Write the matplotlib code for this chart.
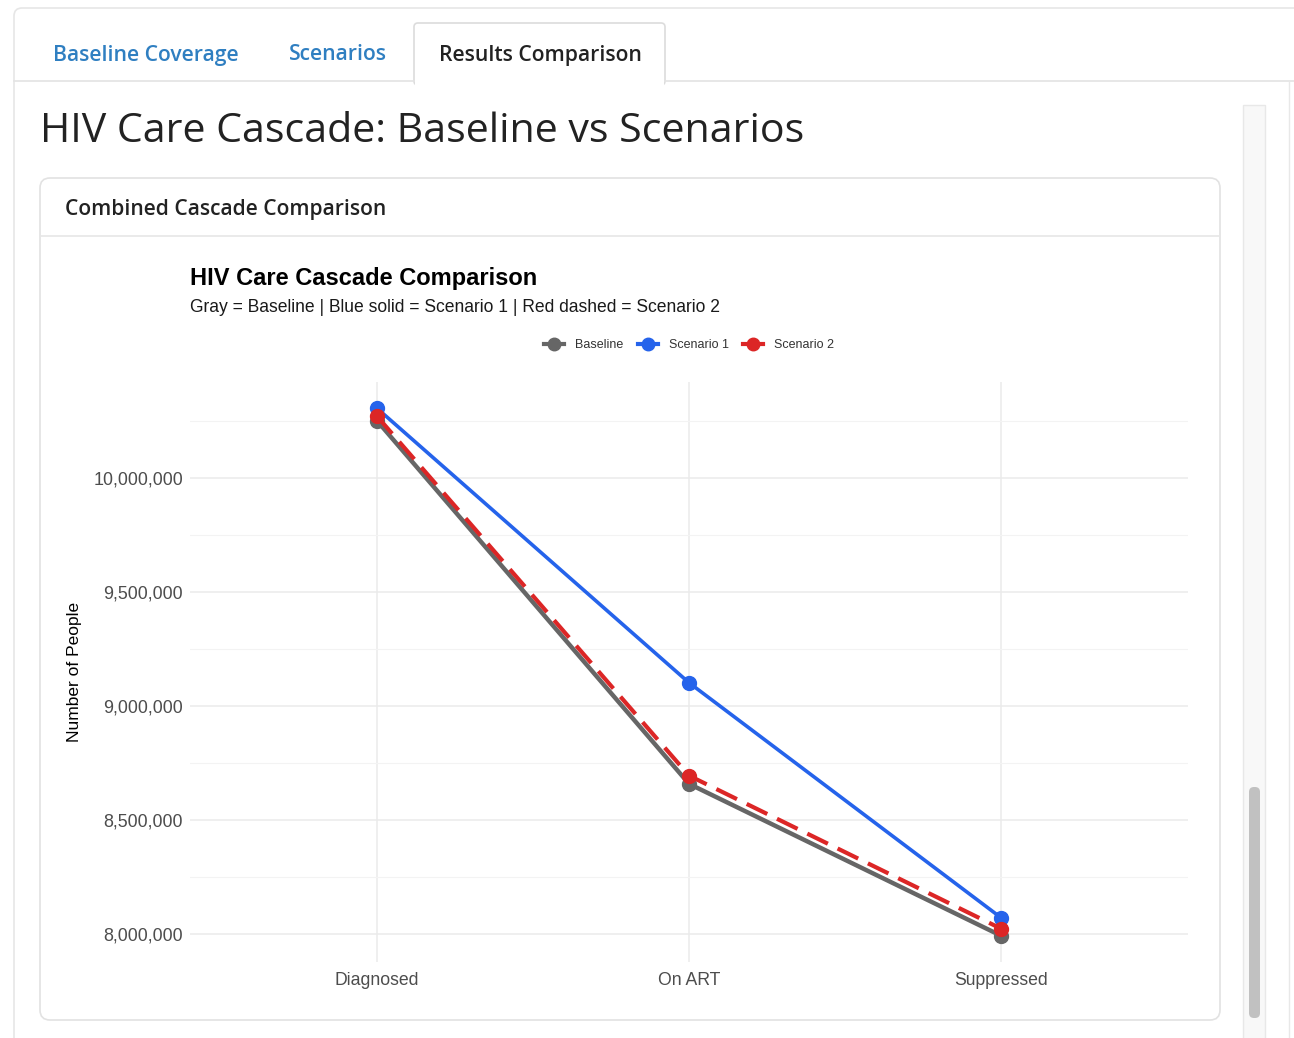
import matplotlib.pyplot as plt
from matplotlib.patches import FancyBboxPatch, Rectangle
from matplotlib.lines import Line2D
from matplotlib.ticker import FuncFormatter, MultipleLocator

# --- Cascade data ---
STAGES = ["Diagnosed", "On ART", "Suppressed"]
BASELINE = [10250000, 8660000, 7995000]
SCENARIO_1 = [10305000, 9103000, 8074000]
SCENARIO_2 = [10270000, 8696000, 8026000]

W, H = 1294, 1038
UI_FONT = "Open Sans"
PLOT_FONT = ["Liberation Sans", "DejaVu Sans"]


def px(x, y, w, h):
    # pixel box (top-left origin) -> figure fraction rect
    return [x / W, 1 - (y + h) / H, w / W, h / H]


fig = plt.figure(figsize=(W / 100, H / 100), dpi=100, facecolor="white")

# --- page chrome drawn in pixel space ---
ui = fig.add_axes([0, 0, 1, 1])
ui.set_xlim(0, W)
ui.set_ylim(H, 0)
ui.axis("off")

# outer container
ui.add_patch(FancyBboxPatch((14, 8), W + 40, H + 40, boxstyle="round,pad=0,rounding_size=8",
                            fc="white", ec="#e6e6e6", lw=1.2))
# tab strip underline and active tab
ui.plot([14, 414], [81, 81], color="#e3e3e3", lw=1.2)
ui.plot([665, W], [81, 81], color="#e3e3e3", lw=1.2)
ui.add_patch(FancyBboxPatch((414, 23), 251, 62, boxstyle="round,pad=0,rounding_size=4",
                            fc="white", ec="#dcdcdc", lw=1.2))
ui.add_patch(Rectangle((415, 78), 249, 8, fc="white", ec="none"))

tab_kw = dict(fontsize=15.2, fontfamily=UI_FONT, fontweight="semibold", va="center")
ui.text(53, 55, "Baseline Coverage", color="#2f7fc1", **tab_kw)
ui.text(289, 55, "Scenarios", color="#2f7fc1", **tab_kw)
ui.text(439, 55, "Results Comparison", color="#222222", **tab_kw)

ui.text(40, 132, "HIV Care Cascade: Baseline vs Scenarios", fontsize=29.6, fontfamily=UI_FONT,
        color="#222222", va="center")

# card
ui.add_patch(FancyBboxPatch((40, 178), 1180, 842, boxstyle="round,pad=0,rounding_size=10",
                            fc="white", ec="#e2e2e2", lw=1.2))
ui.plot([41, 1219], [236, 236], color="#e6e6e6", lw=1.2)
ui.text(65, 209, "Combined Cascade Comparison", fontsize=15.1, fontfamily=UI_FONT,
        fontweight="semibold", color="#222222", va="center")

# scrollbar
ui.add_patch(Rectangle((1243, 105), 22, H, fc="#f8f8f8", ec="#e8e8e8", lw=1))
ui.add_patch(FancyBboxPatch((1249, 787), 11, 231, boxstyle="round,pad=0,rounding_size=5",
                            fc="#c1c1c1", ec="none"))
ui.plot([1289, 1289], [82, H], color="#e8e8e8", lw=1)

# chart titles and legend
ui.text(190, 279, "HIV Care Cascade Comparison", fontsize=17, fontweight="bold",
        family=PLOT_FONT, color="black", va="center")
ui.text(190, 307, "Gray = Baseline | Blue solid = Scenario 1 | Red dashed = Scenario 2",
        fontsize=12.65, family=PLOT_FONT, color="#1a1a1a", va="center")

# --- the cascade plot ---
ax = fig.add_axes(px(190, 382, 998, 580))
x = list(range(1, len(STAGES) + 1))

ax.plot(x, BASELINE, color="#666666", lw=3.2, marker="o", ms=10, solid_capstyle="butt",
        zorder=3, label="Baseline")
ax.plot(x, SCENARIO_1, color="#2563eb", lw=2.6, marker="o", ms=10, zorder=4, label="Scenario 1")
ax.plot(x, SCENARIO_2, color="#dc2626", lw=3.0, marker="o", ms=10, ls=(0, (5.5, 2.6)),
        zorder=5, label="Scenario 2")

allv = BASELINE + SCENARIO_1 + SCENARIO_2
lo, hi = min(allv), max(allv)
pad = (hi - lo) * 0.05
ax.set_ylim(lo - pad, hi + pad)
ax.set_xlim(0.4, len(STAGES) + 0.6)

ax.set_xticks(x)
ax.set_xticklabels(STAGES)
ax.yaxis.set_major_locator(MultipleLocator(500000))
ax.yaxis.set_minor_locator(MultipleLocator(250000))
ax.yaxis.set_major_formatter(FuncFormatter(lambda v, _: f"{v:,.0f}"))

for side in ax.spines.values():
    side.set_visible(False)
ax.tick_params(which="both", length=0)
ax.tick_params(axis="y", labelsize=12.9, labelcolor="#4d4d4d", pad=5)
ax.tick_params(axis="x", labelsize=12.7, labelcolor="#4d4d4d", pad=7)
for lab in ax.get_xticklabels() + ax.get_yticklabels():
    lab.set_family(PLOT_FONT)
ax.grid(True, which="major", color="#ebebeb", lw=1.1)
ax.grid(True, which="minor", axis="y", color="#f3f3f3", lw=0.8)
ax.set_axisbelow(True)
ax.set_ylabel("Number of People", fontsize=12.5, family=PLOT_FONT, color="black", labelpad=8)

leg = fig.legend(
    handles=[Line2D([], [], color=c, marker="o", ms=9, lw=3) for c in ("#666666", "#2563eb", "#dc2626")],
    labels=["Baseline", "Scenario 1", "Scenario 2"],
    loc="center", bbox_to_anchor=(689 / W, 1 - 345 / H), ncol=3, frameon=False,
    handlelength=1.6, handletextpad=0.9, columnspacing=1.1,
    prop={"family": PLOT_FONT, "size": 9},
)
for t in leg.get_texts():
    t.set_color("#333333")

fig.savefig("out.png", dpi=100, facecolor="white")
